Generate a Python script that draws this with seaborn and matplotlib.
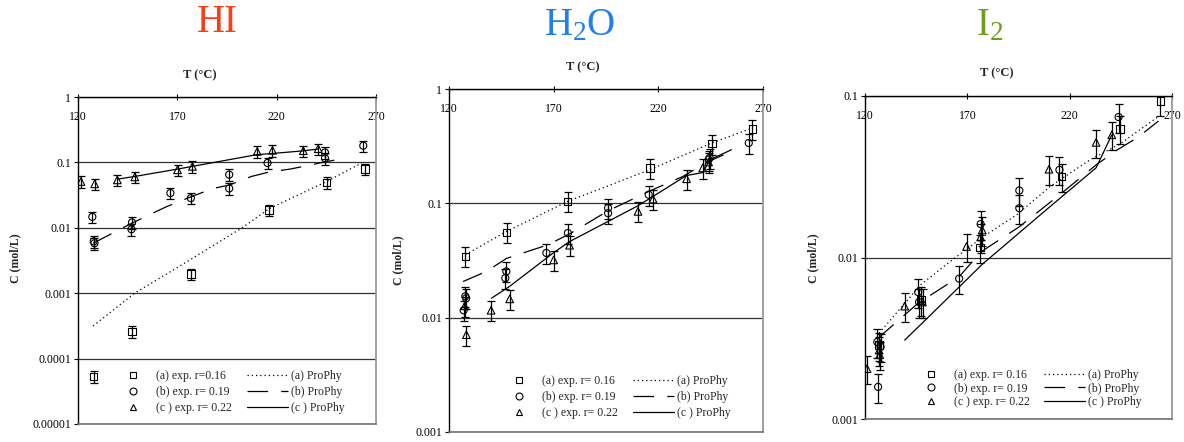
import matplotlib
matplotlib.use("Agg")
import matplotlib.pyplot as plt
from matplotlib.lines import Line2D
from matplotlib.ticker import FixedLocator, FixedFormatter, NullLocator
import numpy as np
import pandas as pd
import seaborn as sns

# ---------------------------------------------------------------- data
X_TICKS = [120, 170, 220, 270]
X_TICK_LABELS = ["120", "170", "220", "270"]

# HI
hi_T_a = [127.9, 147.2, 176.8, 216.1, 245.1, 264.6]
hi_C_a = [5.3e-5, 2.6e-4, 1.98e-3, 0.0189, 0.049, 0.080]
hi_T_b = [127.2, 127.9, 128.3, 147.2, 146.9, 166.5, 176.8, 196.1, 196.1, 215.4, 244.3, 244.3, 263.6]
hi_C_b = [0.0147, 0.0062, 0.0058, 0.0121, 0.0095, 0.034, 0.0284, 0.065, 0.040, 0.098, 0.142, 0.116, 0.18]
hi_T_c = [121.5, 128.4, 139.8, 148.6, 170.1, 177.6, 210.2, 217.9, 233.4, 240.9]
hi_C_c = [0.051, 0.047, 0.054, 0.060, 0.077, 0.087, 0.147, 0.153, 0.151, 0.162]
hi_mT_a = [127.6, 148.5, 174.6, 202.6, 216.1, 245.1, 262.8]
hi_mC_a = [3.16e-4, 1.0e-3, 3.0e-3, 0.01, 0.0195, 0.051, 0.098]
hi_mT_b = [127.6, 136.8, 147.2, 157.7, 164.5, 177.1, 188.0, 196.1, 207.3, 216.0, 226.7, 237.6, 245.0, 255.4]
hi_mC_b = [0.0058, 0.0081, 0.0118, 0.0168, 0.021, 0.030, 0.040, 0.045, 0.061, 0.071, 0.079, 0.092, 0.103, 0.116]
hi_mT_c = [140.1, 148.6, 170.1, 177.6, 209.8, 217.9, 233.2, 240.8]
hi_mC_c = [0.0556, 0.061, 0.079, 0.087, 0.131, 0.137, 0.150, 0.160]
hi_y_ticks = [1, 0.1, 0.01, 0.001, 0.0001, 0.00001]
hi_y_labels = ["1", "0.1", "0.01", "0.001", "0.0001", "0.00001"]

# H2O
h2o_T_a = [127.8, 147.5, 176.7, 216.0, 245.5, 264.9]
h2o_C_a = [0.0344, 0.0557, 0.104, 0.204, 0.333, 0.447]
h2o_T_b = [127.0, 127.8, 128.2, 147.4, 146.9, 166.5, 176.8, 196.0, 196.0, 215.4, 244.0, 244.5, 263.2]
h2o_C_b = [0.0116, 0.0154, 0.0148, 0.0254, 0.0222, 0.0368, 0.055, 0.091, 0.082, 0.119, 0.241, 0.25, 0.337]
h2o_T_c = [128.3, 127.5, 140.1, 149.0, 170.0, 177.6, 210.3, 217.5, 233.5, 241.2, 244.0]
h2o_C_c = [0.0071, 0.0127, 0.0116, 0.0146, 0.032, 0.043, 0.085, 0.109, 0.164, 0.204, 0.23]
h2o_mT_a = [127.8, 147.5, 176.7, 216.0, 245.5, 264.9]
h2o_mC_a = [0.0355, 0.0568, 0.104, 0.197, 0.337, 0.456]
h2o_mT_b = [126.7, 137.9, 147.5, 157.7, 167.3, 177.7, 196.0, 215.4, 231.8, 243.0, 254.9]
h2o_mC_b = [0.0207, 0.0254, 0.033, 0.038, 0.0434, 0.0542, 0.086, 0.127, 0.172, 0.228, 0.285]
h2o_mT_c = [140.3, 149.0, 169.7, 177.7, 210.3, 217.5, 233.4, 241.3, 244.5, 254.9]
h2o_mC_c = [0.0148, 0.0188, 0.0367, 0.0464, 0.0953, 0.115, 0.175, 0.186, 0.240, 0.294]
h2o_y_ticks = [1, 0.1, 0.01, 0.001]
h2o_y_labels = ["1", "0.1", "0.01", "0.001"]

# I2
i2_T_a = [126.9, 147.3, 176.1, 216.1, 244.7, 264.3]
i2_C_a = [0.00286, 0.00545, 0.01156, 0.0318, 0.0627, 0.0935]
i2_T_b = [126.4, 126.0, 127.6, 146.0, 146.4, 166.0, 176.5, 195.4, 195.4, 215.0, 243.9]
i2_C_b = [0.00158, 0.0030, 0.0028, 0.0061, 0.0053, 0.0074, 0.0161, 0.026, 0.0202, 0.0349, 0.0741]
i2_T_c = [121.0, 126.9, 127.2, 139.4, 148.1, 169.6, 176.5, 177.3, 209.9, 232.9, 240.6]
i2_C_c = [0.00205, 0.00267, 0.0025, 0.005, 0.0053, 0.0117, 0.0134, 0.0148, 0.0352, 0.0516, 0.0575]
i2_mT_a = [126.9, 147.3, 161.4, 177.8, 194.1, 210.4, 230.0, 244.7, 263.4]
i2_mC_a = [0.0034, 0.0068, 0.0094, 0.01346, 0.01837, 0.0275, 0.0403, 0.0506, 0.0747]
i2_mT_b = [126.4, 146.0, 166.0, 176.5, 195.4, 215.0, 233.0, 243.3, 253.6, 263.4]
i2_mC_b = [0.00317, 0.00522, 0.0076, 0.0108, 0.0155, 0.0244, 0.0375, 0.0464, 0.0558, 0.070]
i2_mT_c = [139.4, 148.1, 169.6, 177.3, 209.9, 232.9, 240.6]
i2_mC_c = [0.00308, 0.00394, 0.00728, 0.00908, 0.0204, 0.0359, 0.0575]
i2_y_ticks = [0.1, 0.01, 0.001]
i2_y_labels = ["0.1", "0.01", "0.001"]

REL_ERR = 0.2  # relative experimental uncertainty

EXP_LABELS_HI = ["(a) exp. r=0.16", "(b) exp. r= 0.19", "(c ) exp. r= 0.22"]
EXP_LABELS = ["(a) exp. r= 0.16", "(b) exp. r= 0.19", "(c ) exp. r= 0.22"]
MODEL_LABELS = ["(a) ProPhy", "(b) ProPhy", "(c ) ProPhy"]

# ---------------------------------------------------------------- style
W, H = 1184, 442
sns.set_theme(style="white")
SERIF = ["Liberation Serif", "DejaVu Serif"]
plt.rcParams["font.family"] = SERIF
plt.rcParams["mathtext.default"] = "regular"

MARKERS = ["s", "o", "^"]
MARKER_SIZES = [30, 26, 30]
LINESTYLES = [(0, (1.0, 2.4)), (0, (16.5, 10.5)), "-"]

fig = plt.figure(figsize=(W / 100, H / 100), dpi=100)
fig.patch.set_facecolor("white")


def fig_xy(x, y):
    return (x / W, 1 - y / H)


panels = [
    dict(title="HI", color="#FF3B12", title_xy=(217, 22),
         box=(78, 97, 376, 424), ylim=(1e-5, 1), yt=hi_y_ticks, ytl=hi_y_labels,
         exp=[(hi_T_a, hi_C_a), (hi_T_b, hi_C_b), (hi_T_c, hi_C_c)],
         mod=[(hi_mT_a, hi_mC_a), (hi_mT_b, hi_mC_b), (hi_mT_c, hi_mC_c)],
         exp_labels=EXP_LABELS_HI, xlab=(200, 75), ylab=(15, 258),
         leg_mk=(126, 370), leg_ln=(247, 370), lspace=0.34),
    dict(title="H$_2$O", color="#1F7FF2", title_xy=(580, 26),
         box=(449, 89, 763, 432), ylim=(1e-3, 1), yt=h2o_y_ticks, ytl=h2o_y_labels,
         exp=[(h2o_T_a, h2o_C_a), (h2o_T_b, h2o_C_b), (h2o_T_c, h2o_C_c)],
         mod=[(h2o_mT_a, h2o_mC_a), (h2o_mT_b, h2o_mC_b), (h2o_mT_c, h2o_mC_c)],
         exp_labels=EXP_LABELS, xlab=(583, 67), ylab=(398, 260),
         leg_mk=(512, 375), leg_ln=(633, 375), lspace=0.34),
    dict(title="I$_2$", color="#6E9E1E", title_xy=(990, 26),
         box=(865, 96, 1172, 419), ylim=(1e-3, 0.1), yt=i2_y_ticks, ytl=i2_y_labels,
         exp=[(i2_T_a, i2_C_a), (i2_T_b, i2_C_b), (i2_T_c, i2_C_c)],
         mod=[(i2_mT_a, i2_mC_a), (i2_mT_b, i2_mC_b), (i2_mT_c, i2_mC_c)],
         exp_labels=EXP_LABELS, xlab=(997, 73), ylab=(813, 258),
         leg_mk=(924, 369), leg_ln=(1044, 369), lspace=0.13),
]

for p in panels:
    x0, y0, x1, y1 = p["box"]
    ax = fig.add_axes([x0 / W, 1 - y1 / H, (x1 - x0) / W, (y1 - y0) / H])
    ax.set_facecolor("white")
    ax.set_xscale("linear")
    ax.set_yscale("log")
    ax.set_xlim(120, 270)
    ax.set_ylim(*p["ylim"])

    # model curves
    for (mT, mC), ls in zip(p["mod"], LINESTYLES):
        dfm = pd.DataFrame({"T": mT, "C": mC})
        sns.lineplot(data=dfm, x="T", y="C", ax=ax, color="black", lw=0.9,
                     linestyle=ls, estimator=None, sort=False, legend=False)

    # experimental points with error bars
    for (T, C), mk, s in zip(p["exp"], MARKERS, MARKER_SIZES):
        C = np.asarray(C)
        ax.errorbar(T, C, yerr=REL_ERR * C, fmt="none", ecolor="black",
                    elinewidth=0.9, capsize=2.8, capthick=0.9, zorder=3)
        dfe = pd.DataFrame({"T": T, "C": C})
        sns.scatterplot(data=dfe, x="T", y="C", ax=ax, marker=mk, s=s,
                        facecolor="none", edgecolor="black", linewidth=0.8,
                        zorder=4, legend=False)

    # axes cosmetics
    ax.yaxis.set_major_locator(FixedLocator(p["yt"]))
    ax.yaxis.set_major_formatter(FixedFormatter(p["ytl"]))
    ax.yaxis.set_minor_locator(NullLocator())
    ax.xaxis.set_major_locator(FixedLocator(X_TICKS))
    ax.xaxis.set_major_formatter(FixedFormatter(X_TICK_LABELS))
    ax.xaxis.tick_top()
    ax.tick_params(axis="x", top=True, bottom=False, labeltop=True,
                   labelbottom=False, direction="inout", length=5, width=0.8,
                   pad=-21, labelsize=8.5, colors="black")
    ax.tick_params(axis="y", left=True, right=False, direction="out",
                   length=3, width=0.8, pad=2, labelsize=8.5, colors="black")
    ax.grid(False)
    ax.yaxis.grid(True, color="0.2", lw=0.9)
    ax.set_axisbelow(True)
    for side in ("left", "top"):
        ax.spines[side].set_color("black")
        ax.spines[side].set_linewidth(1.0)
    ax.spines["right"].set_color("0.6")
    ax.spines["right"].set_linewidth(1.3)
    ax.spines["bottom"].set_color("0.45")
    ax.spines["bottom"].set_linewidth(1.2)
    for sp in ax.spines.values():
        sp.set_visible(True)

    # axis labels
    ax.set_xlabel("T (°C)", fontsize=9, fontweight="bold")
    ax.xaxis.set_label_position("top")
    lx, ly = p["xlab"]
    ax.xaxis.set_label_coords((lx - x0) / (x1 - x0), 1 + (y0 - ly) / (y1 - y0))
    ax.xaxis.label.set_va("center")
    ax.set_ylabel("C (mol/L)", fontsize=8.5, fontweight="bold")
    yx, yy = p["ylab"]
    ax.yaxis.set_label_coords((yx - x0) / (x1 - x0), 1 - (yy - y0) / (y1 - y0))
    ax.yaxis.label.set_va("center")

    # legends: markers column and model-line column
    mk_handles = [Line2D([], [], ls="none", marker=m, ms=5, mfc="none",
                         mec="black", mew=0.8) for m in MARKERS]
    leg1 = ax.legend(mk_handles, p["exp_labels"], loc="upper left",
                     bbox_to_anchor=fig_xy(*p["leg_mk"]),
                     bbox_transform=fig.transFigure, frameon=False,
                     borderpad=0, borderaxespad=0, handlelength=1.2,
                     handletextpad=1.35, labelspacing=p["lspace"], fontsize=8.5)
    ax.add_artist(leg1)
    ln_handles = [Line2D([], [], color="black", lw=0.9, ls=ls) for ls in LINESTYLES]
    ax.legend(ln_handles, MODEL_LABELS, loc="upper left",
              bbox_to_anchor=fig_xy(*p["leg_ln"]),
              bbox_transform=fig.transFigure, frameon=False,
              borderpad=0, borderaxespad=0, handlelength=3.5,
              handletextpad=0.2, labelspacing=p["lspace"], fontsize=8.5)

    # species title
    tx, ty = p["title_xy"]
    fig.text(tx / W, 1 - ty / H, p["title"], color=p["color"], fontsize=28,
             ha="center", va="center", family=SERIF)

fig.savefig("out.png", dpi=100, facecolor="white")
